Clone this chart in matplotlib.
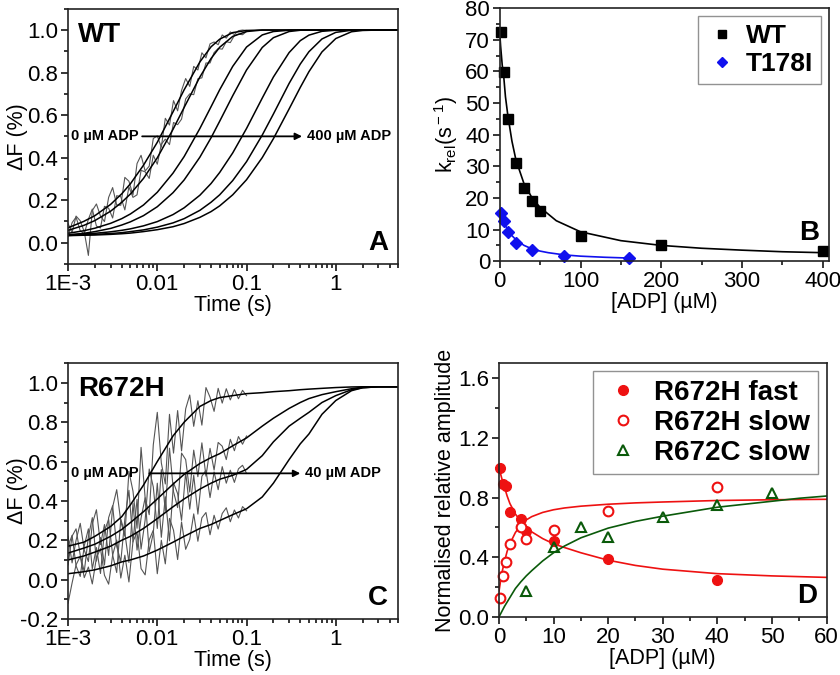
import numpy as np
import matplotlib.pyplot as plt
from matplotlib.ticker import MultipleLocator, FixedLocator, LogLocator, NullFormatter

plt.rcParams['font.family'] = ['Liberation Sans', 'DejaVu Sans']
plt.rcParams['mathtext.fontset'] = 'custom'
plt.rcParams['mathtext.rm'] = 'Liberation Sans'
plt.rcParams['mathtext.it'] = 'Liberation Sans:italic'

# -------------------------------
# Panel A / C: time grid shared by the fitted traces (s)
# -------------------------------
t_grid = [0.001, 0.0015, 0.002, 0.003, 0.004, 0.005, 0.007, 0.01, 0.015, 0.02,
          0.03, 0.04, 0.05, 0.07, 0.1, 0.15, 0.2, 0.3, 0.4, 0.5, 0.7, 1, 1.5, 2, 3, 5]

# WT fitted traces, 0 -> 400 uM ADP
wt_traces = [
    [.07, .10, .127, .18, .23, .277, .364, .472, .615, .719, .85, .921, .957, .988, .998,
     1, 1, 1, 1, 1, 1, 1, 1, 1, 1, 1],
    [.058, .081, .104, .148, .19, .229, .302, .399, .533, .636, .779, .866, .919, .97, .993,
     1, 1, 1, 1, 1, 1, 1, 1, 1, 1, 1],
    [.044, .056, .068, .091, .113, .135, .177, .237, .327, .405, .537, .639, .719, .829, .92,
     .977, .993, .999, 1, 1, 1, 1, 1, 1, 1, 1],
    [.036, .044, .052, .067, .083, .098, .127, .169, .235, .295, .402, .493, .571, .691, .812,
     .918, .964, .993, .999, 1, 1, 1, 1, 1, 1, 1],
    [.037, .041, .044, .051, .058, .065, .079, .099, .132, .164, .223, .278, .33, .422, .537,
     .68, .779, .894, .95, .976, .994, .999, 1, 1, 1, 1],
    [.034, .037, .039, .043, .047, .052, .06, .073, .093, .113, .152, .19, .225, .292, .381,
     .506, .605, .749, .84, .898, .958, .989, .999, 1, 1, 1],
    [.033, .035, .036, .039, .042, .045, .052, .061, .075, .09, .119, .146, .173, .225, .296,
     .40, .489, .629, .73, .804, .897, .96, .992, .998, 1, 1],
]

# R672H fitted traces, 0 -> 40 uM ADP
r672h_traces = [
    [.17, .19, .22, .27, .32, .38, .48, .60, .73, .80, .88, .91, .925, .935, .945,
     .95, .955, .96, .965, .968, .972, .976, .979, .98, .98, .98],
    [.135, .16, .18, .22, .255, .29, .345, .41, .485, .535, .59, .62, .64, .68, .72,
     .78, .82, .87, .90, .92, .94, .955, .97, .978, .98, .98],
    [.10, .12, .14, .17, .20, .22, .26, .31, .37, .41, .46, .49, .51, .53, .56,
     .63, .70, .78, .82, .85, .90, .935, .965, .975, .98, .98],
    [.03, .04, .05, .07, .09, .10, .12, .15, .19, .22, .26, .28, .30, .33, .36,
     .42, .49, .61, .69, .74, .84, .91, .96, .975, .98, .98],
]

# raw (noisy) stopped-flow records, early part (s)
raw_t = [0.001, 0.00111, 0.00123, 0.00137, 0.00152, 0.00169, 0.00187, 0.00208, 0.00231,
         0.00256, 0.00285, 0.00316, 0.00351, 0.0039, 0.00433, 0.00481, 0.00534, 0.00593,
         0.00658, 0.00731, 0.00812, 0.00902, 0.01, 0.0111, 0.0123, 0.0137, 0.0152, 0.0169,
         0.0187, 0.0208, 0.0231, 0.0256, 0.0285, 0.0316, 0.0351, 0.039, 0.0433, 0.0481,
         0.0534, 0.0593, 0.0658, 0.0731, 0.0812, 0.0902, 0.1]

wt_raw = [
    [.09, .048, .125, .103, .051, -.06, .151, .182, .125, .099, .213, .259, .177, .176, .307,
     .289, .224, .372, .411, .337, .36, .49, .502, .449, .585, .553, .668, .62, .716, .772,
     .735, .829, .812, .893, .869, .935, .944, .931, .977, .962, .991, .979, .997, 1.0, .998],
    [.028, .094, .12, .056, .042, .11, .158, .078, .069, .171, .162, .116, .221, .216, .154,
     .262, .213, .225, .34, .333, .302, .411, .369, .463, .487, .461, .565, .555, .581, .676,
     .70, .696, .771, .775, .845, .845, .894, .913, .91, .945, .941, .974, .981, .978, .993],
]

r672h_raw = [
    [.22, .085, .20, .286, .15, .092, .283, .355, .178, .28, .123, .369, .457, .296, .221,
     .55, .45, .261, .672, .415, .33, .685, .85, .593, .486, .84, .643, .859, .654, .868,
     .938, .779, .909, .785, .976, .927, .855, .972, .897, .97, .913, .966, .919, .962, .935],
    [.075, .221, .258, .124, .041, .218, .315, .094, .214, .074, .315, .376, .169, .092, .307,
     .454, .191, .408, .155, .303, .562, .471, .26, .559, .348, .668, .447, .366, .643, .61,
     .445, .658, .523, .695, .526, .667, .557, .697, .678, .61, .713, .655, .727, .688, .73],
    [.17, .225, .07, .016, .172, .258, .055, .163, .031, .248, .306, .125, .036, .307, .237,
     .087, .388, .15, .313, .416, .141, .236, .49, .215, .421, .197, .492, .437, .301, .545,
     .358, .53, .333, .525, .556, .417, .547, .457, .574, .49, .556, .494, .563, .581, .54],
    [-.12, -.017, .075, .118, .01, .064, -.022, .112, .157, .022, -.023, .124, .201, .008, .124,
     -.012, .194, .24, .056, .024, .202, .251, .03, .20, .08, .311, .251, .102, .293, .154,
     .204, .334, .195, .314, .341, .228, .327, .257, .336, .365, .294, .354, .313, .371, .35],
]

# -------------------------------
# Panel B: k_rel vs [ADP]
# -------------------------------
wt_adp = [1, 5, 10, 20, 30, 40, 50, 100, 200, 400]
wt_krel = [72.4, 59.7, 45.0, 31.1, 23.2, 18.9, 15.9, 8.0, 5.1, 3.3]
t178i_adp = [2, 5, 10, 20, 40, 80, 160]
t178i_krel = [15.1, 12.8, 9.3, 5.8, 3.5, 1.6, 1.05]

wt_fit_x = [0, 1, 2, 3, 5, 7, 10, 15, 20, 30, 40, 50, 70, 100, 150, 200, 250, 300, 350, 400]
wt_fit_y = [72, 68, 65, 62, 58, 52, 46, 38, 32, 24.5, 20, 17, 12.8, 9.3, 6.5, 5.0, 4.1, 3.5, 3.0, 2.7]
t178i_fit_x = [0, 2, 5, 10, 15, 20, 30, 40, 50, 60, 80, 100, 130, 160]
t178i_fit_y = [15.5, 14.2, 12.3, 9.8, 8.1, 6.8, 5.0, 3.9, 3.2, 2.7, 2.0, 1.6, 1.25, 1.0]

# -------------------------------
# Panel D: normalised amplitudes
# -------------------------------
fast_adp = [0.2, 0.8, 1.3, 2, 4, 5, 10, 20, 40]
fast_amp = [1.0, 0.89, 0.88, 0.70, 0.655, 0.575, 0.51, 0.39, 0.245]
slow_adp = [0.2, 0.8, 1.2, 2, 4, 5, 10, 20, 40]
slow_amp = [0.13, 0.275, 0.37, 0.487, 0.60, 0.522, 0.582, 0.711, 0.871]
r672c_adp = [5, 10, 15, 20, 30, 40, 50]
r672c_amp = [0.175, 0.467, 0.604, 0.533, 0.667, 0.751, 0.827]

fast_fit_x = [0, 0.5, 1, 1.5, 2, 3, 4, 5, 6, 8, 10, 12, 15, 20, 25, 30, 40, 50, 60]
fast_fit_y = [1.0, 0.93, 0.87, 0.81, 0.76, 0.69, 0.64, 0.60, 0.57, 0.525, 0.49, 0.465, 0.43,
              0.38, 0.345, 0.32, 0.29, 0.275, 0.265]
slow_fit_x = [0, 0.25, 0.5, 1, 1.5, 2, 3, 4, 5, 6, 8, 10, 12, 15, 20, 25, 30, 40, 50, 60]
slow_fit_y = [0.17, 0.23, 0.29, 0.37, 0.44, 0.49, 0.565, 0.615, 0.65, 0.672, 0.70, 0.718, 0.73,
              0.742, 0.755, 0.764, 0.77, 0.78, 0.785, 0.788]
r672c_fit_x = [0, 1, 2, 3, 4, 5, 6, 8, 10, 12, 15, 20, 25, 30, 35, 40, 45, 50, 55, 60]
r672c_fit_y = [0, 0.07, 0.13, 0.19, 0.235, 0.275, 0.31, 0.375, 0.43, 0.475, 0.53, 0.595, 0.64,
               0.675, 0.705, 0.735, 0.755, 0.775, 0.795, 0.81]

red = '#ee1111'
green = '#0a5a0a'
blue = '#1010ee'
raw_grey = '#555555'

fig = plt.figure(figsize=(8.4, 6.75), dpi=100)
axA = fig.add_axes([0.081, 0.609, 0.393, 0.378])
axB = fig.add_axes([0.595, 0.613, 0.392, 0.375])
axC = fig.add_axes([0.081, 0.083, 0.393, 0.379])
axD = fig.add_axes([0.594, 0.086, 0.390, 0.376])


def style(ax):
    for s in ax.spines.values():
        s.set_linewidth(1.2)
        s.set_color('#222222')
    ax.tick_params(which='both', direction='out', top=False, right=False,
                   labelsize=16, width=1.1, pad=2)
    ax.tick_params(which='major', length=5)
    ax.tick_params(which='minor', length=3)


def time_axis(ax):
    ax.set_xscale('log')
    ax.set_xlim(1e-3, 5)
    ax.xaxis.set_major_locator(FixedLocator([1e-3, 1e-2, 1e-1, 1]))
    ax.set_xticklabels(['1E-3', '0.01', '0.1', '1'])
    ax.xaxis.set_minor_locator(LogLocator(base=10, subs=np.arange(2, 10)))
    ax.xaxis.set_minor_formatter(NullFormatter())
    ax.set_xlabel('Time (s)', fontsize=15.5, labelpad=0)
    ax.set_ylabel('ΔF (%)', fontsize=15.5)
    ax.yaxis.set_label_coords(-0.12, 0.5)
    ax.yaxis.set_major_locator(MultipleLocator(0.2))
    ax.yaxis.set_minor_locator(MultipleLocator(0.1))
    ax.yaxis.set_major_formatter(plt.FormatStrFormatter('%.1f'))


# ---- A ----
for tr in wt_raw:
    axA.plot(raw_t, tr, color=raw_grey, lw=0.8)
for tr in wt_traces:
    axA.plot(t_grid, tr, color='black', lw=1.1)
time_axis(axA)
axA.set_ylim(-0.1, 1.1)
style(axA)
axA.text(0.03, 0.95, 'WT', transform=axA.transAxes, fontsize=20, fontweight='bold', va='top')
axA.text(0.97, 0.03, 'A', transform=axA.transAxes, fontsize=20, fontweight='bold',
         ha='right', va='bottom')
axA.annotate('', xy=(0.45, 0.5), xytext=(0.0063, 0.5),
             arrowprops=dict(arrowstyle='-|>', color='black', lw=1.3, mutation_scale=10))
axA.text(1.08e-3, 0.5, '0 µM ADP', fontsize=10.5, fontweight='bold', va='center')
axA.text(0.48, 0.5, '400 µM ADP', fontsize=10.5, fontweight='bold', va='center')

# ---- B ----
axB.plot(wt_fit_x, wt_fit_y, color='black', lw=1.2)
axB.plot(t178i_fit_x, t178i_fit_y, color=blue, lw=1.2)
axB.plot(wt_adp, wt_krel, 's', color='black', ms=6.5, label='WT', clip_on=False)
axB.plot(t178i_adp, t178i_krel, 'D', color=blue, ms=6.5, label='T178I', clip_on=False)
axB.set_xlim(0, 408)
axB.set_ylim(0, 80)
axB.xaxis.set_major_locator(MultipleLocator(100))
axB.xaxis.set_minor_locator(MultipleLocator(50))
axB.yaxis.set_major_locator(MultipleLocator(10))
axB.yaxis.set_minor_locator(MultipleLocator(5))
style(axB)
axB.set_xlabel('[ADP] (µM)', fontsize=15.5, labelpad=0)
axB.set_ylabel(r'k$_{\rm rel}$(s$^{\rm -1}$)', fontsize=15.5)
axB.yaxis.set_label_coords(-0.12, 0.5)
legB = axB.legend(loc='upper right', prop={'weight': 'bold', 'size': 19},
                  frameon=True, fancybox=False, edgecolor='#777777', handletextpad=0.3,
                  borderpad=0.3, labelspacing=0.15, handlelength=1.2, borderaxespad=0.3,
                  markerscale=0.8)
legB.get_frame().set_linewidth(1.0)
axB.text(0.97, 0.06, 'B', transform=axB.transAxes, fontsize=20, fontweight='bold',
         ha='right', va='bottom')

# ---- C ----
for tr in r672h_raw:
    axC.plot(raw_t, tr, color=raw_grey, lw=0.8)
for tr in r672h_traces:
    axC.plot(t_grid, tr, color='black', lw=1.1)
time_axis(axC)
axC.set_ylim(-0.2, 1.1)
style(axC)
axC.text(0.03, 0.95, 'R672H', transform=axC.transAxes, fontsize=20, fontweight='bold', va='top')
axC.text(0.97, 0.03, 'C', transform=axC.transAxes, fontsize=20, fontweight='bold',
         ha='right', va='bottom')
axC.annotate('', xy=(0.43, 0.54), xytext=(0.0076, 0.54),
             arrowprops=dict(arrowstyle='-|>', color='black', lw=1.3, mutation_scale=10))
axC.text(1.08e-3, 0.54, '0 µM ADP', fontsize=10.5, fontweight='bold', va='center')
axC.text(0.45, 0.54, '40 µM ADP', fontsize=10.5, fontweight='bold', va='center')

# ---- D ----
axD.plot(fast_fit_x, fast_fit_y, color=red, lw=1.2)
axD.plot(slow_fit_x, slow_fit_y, color=red, lw=1.2)
axD.plot(r672c_fit_x, r672c_fit_y, color=green, lw=1.2)
axD.plot(fast_adp, fast_amp, 'o', color=red, ms=7, label='R672H fast', clip_on=False)
axD.plot(slow_adp, slow_amp, 'o', mfc='white', mec=red, mew=1.5, ms=7, label='R672H slow',
         clip_on=False)
axD.plot(r672c_adp, r672c_amp, '^', mfc='none', mec=green, mew=1.5, ms=7.5, label='R672C slow')
axD.set_xlim(0, 60)
axD.set_ylim(0, 1.7)
axD.xaxis.set_major_locator(MultipleLocator(10))
axD.xaxis.set_minor_locator(MultipleLocator(5))
axD.yaxis.set_major_locator(MultipleLocator(0.4))
axD.yaxis.set_minor_locator(MultipleLocator(0.2))
axD.yaxis.set_major_formatter(plt.FormatStrFormatter('%.1f'))
style(axD)
axD.set_xlabel('[ADP] (µM)', fontsize=15.5, labelpad=0)
axD.set_ylabel('Normalised relative amplitude', fontsize=15.5)
axD.yaxis.set_label_coords(-0.13, 0.5)
legD = axD.legend(loc='upper right', prop={'weight': 'bold', 'size': 20},
                  frameon=True, fancybox=False, edgecolor='#777777', handletextpad=0.3,
                  borderpad=0.3, labelspacing=0.15, handlelength=1.6, borderaxespad=0.3)
legD.get_frame().set_linewidth(1.0)
axD.text(0.97, 0.03, 'D', transform=axD.transAxes, fontsize=20, fontweight='bold',
         ha='right', va='bottom')

fig.savefig('out.png', dpi=100)
